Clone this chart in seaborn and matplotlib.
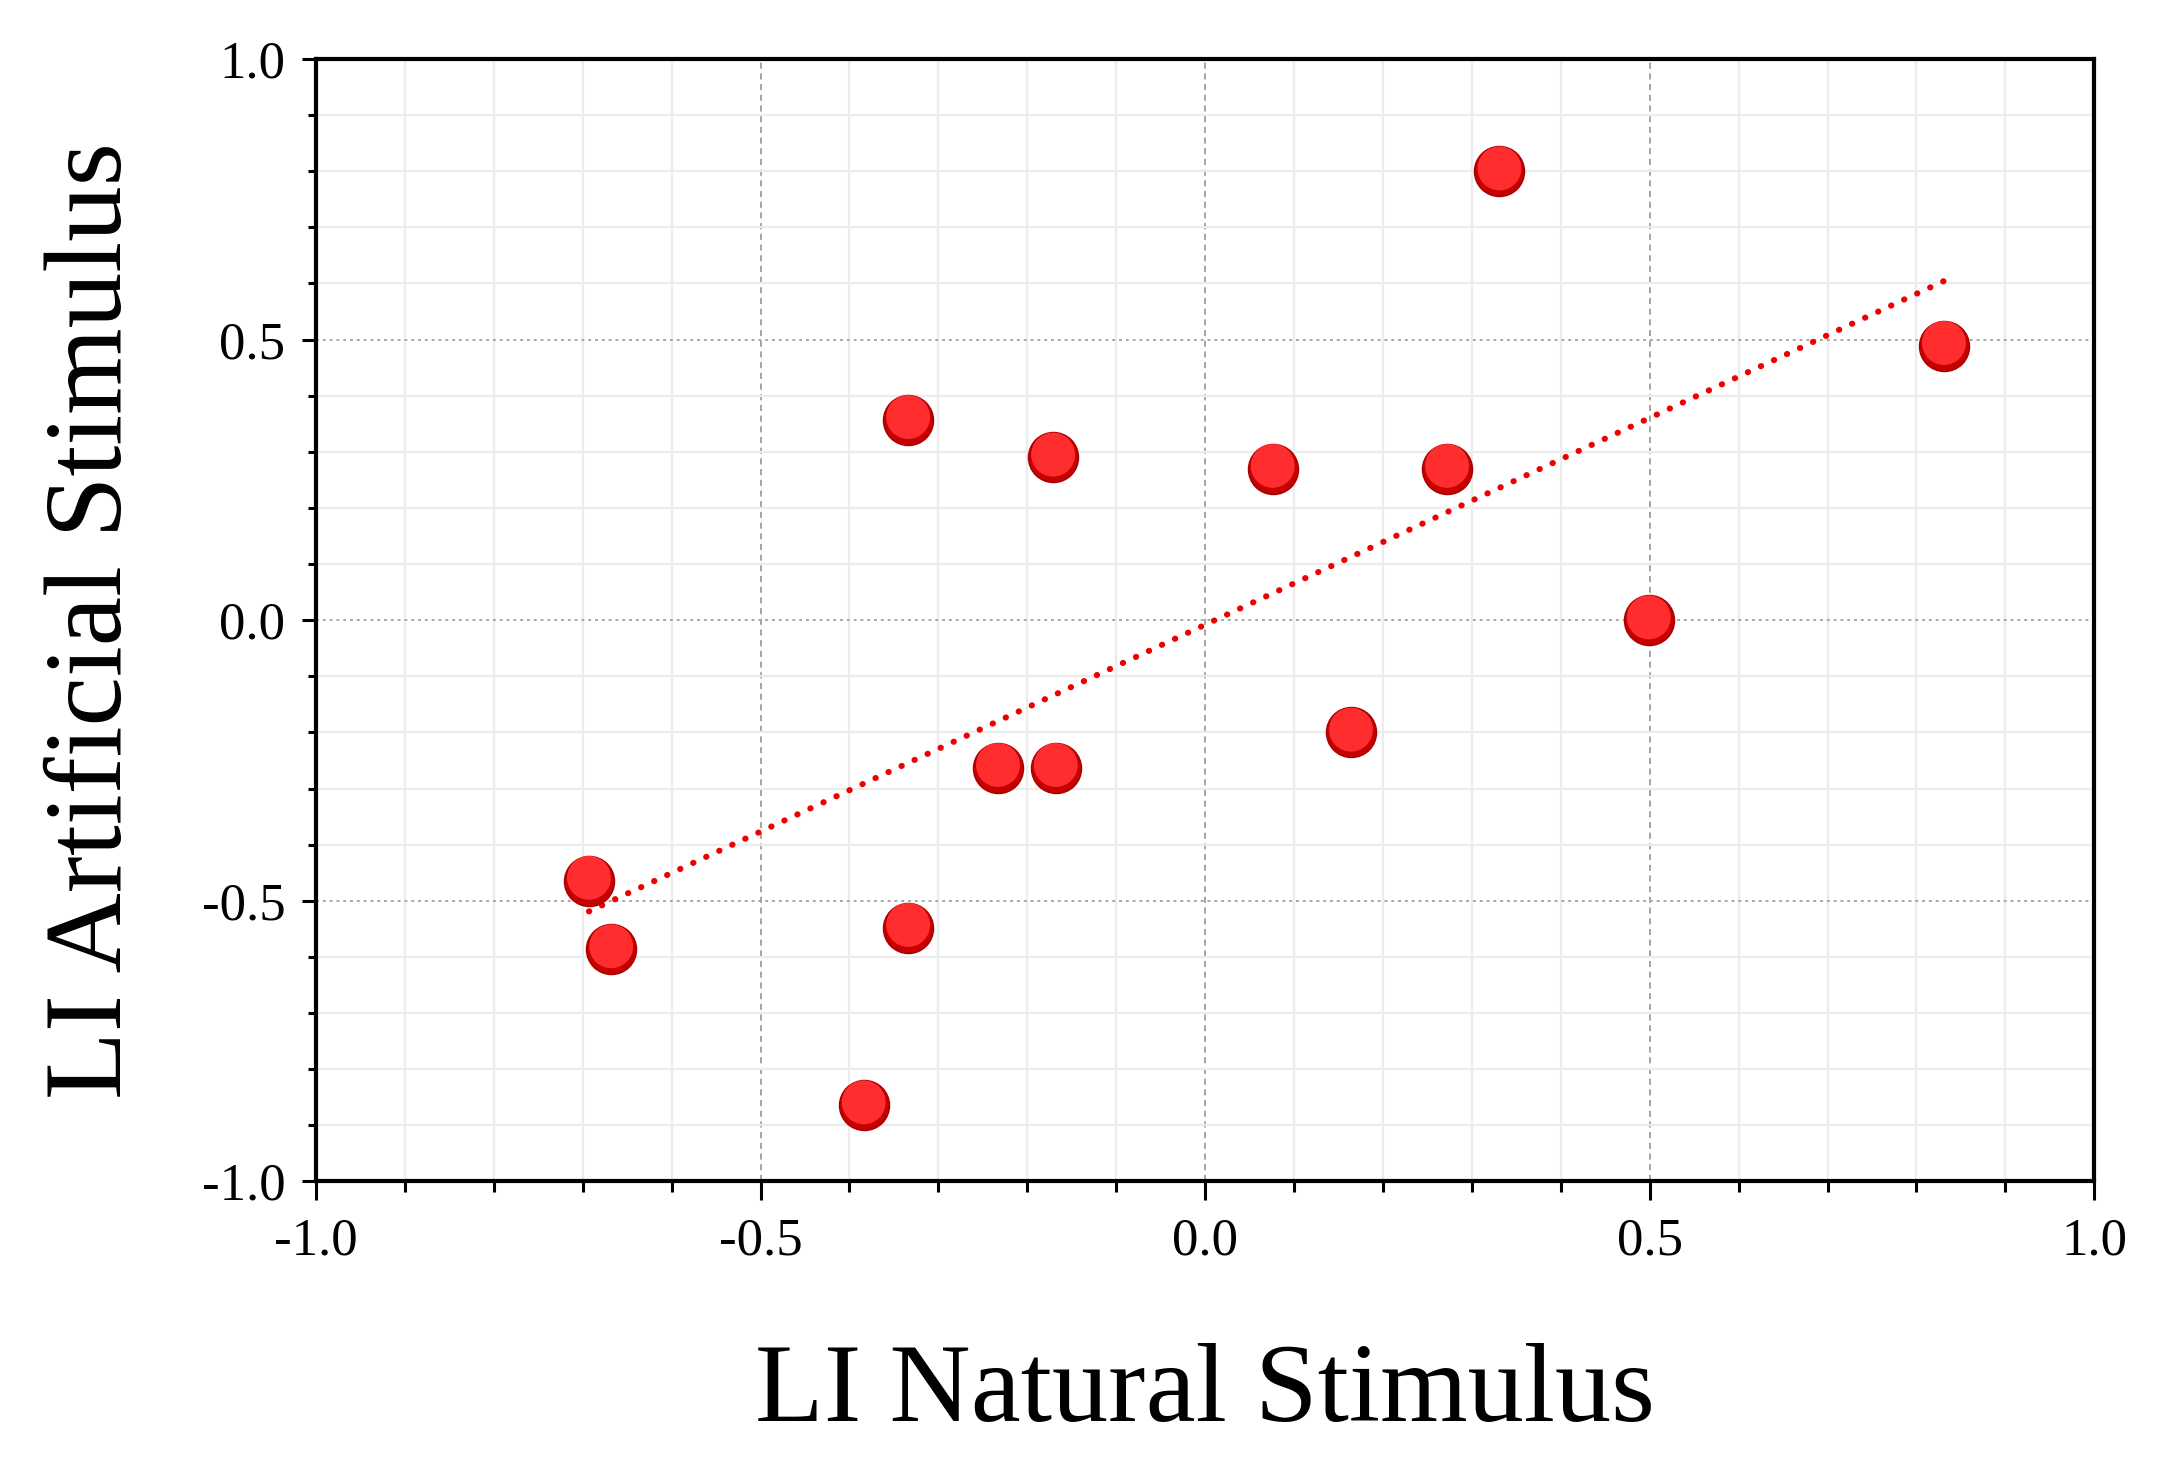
import numpy as np
import pandas as pd
import matplotlib
matplotlib.use("Agg")
import matplotlib.pyplot as plt
import matplotlib.transforms as mtransforms
from matplotlib.ticker import MultipleLocator, FormatStrFormatter
import seaborn as sns

# values
li_natural = [0.331, 0.831, -0.334, -0.171, 0.076, 0.272, 0.499, 0.164,
              -0.233, -0.168, -0.693, -0.668, -0.334, -0.384]
li_artificial = [0.800, 0.489, 0.357, 0.290, 0.270, 0.270, 0.000, -0.200,
                 -0.263, -0.263, -0.464, -0.586, -0.548, -0.864]
x_ticks = [-1.0, -0.5, 0.0, 0.5, 1.0]
y_ticks = [-1.0, -0.5, 0.0, 0.5, 1.0]

df = pd.DataFrame({"natural": li_natural, "artificial": li_artificial})

sns.set_theme(style="white")
plt.rcParams["font.family"] = ["Liberation Serif", "DejaVu Serif"]
plt.rcParams["axes.unicode_minus"] = False
plt.rcParams["text.color"] = "black"
plt.rcParams["axes.labelcolor"] = "black"
plt.rcParams["xtick.color"] = "black"
plt.rcParams["ytick.color"] = "black"

fig = plt.figure(figsize=(21.84, 14.70), dpi=100)
ax = fig.add_axes([0.1447, 0.1963, 0.8142, 0.7636])

# trend line (least squares fit over the data range)
sns.regplot(x="natural", y="artificial", data=df, ax=ax, ci=None, scatter=False,
            line_kws={"color": "#ee0000", "lw": 4.4, "ls": (0, (0.05, 2.3)),
                      "dash_capstyle": "round", "zorder": 3})

# points: dark base with a lighter face shifted up a little for a glossy look
sns.scatterplot(x="natural", y="artificial", data=df, ax=ax, s=1300,
                color="#c40000", edgecolor="#a80000", linewidth=1.0, zorder=4)
sns.scatterplot(x="natural", y="artificial", data=df, ax=ax, s=1000,
                color="#ff2d2d", edgecolor="none", linewidth=0, zorder=5)
shift = mtransforms.ScaledTranslation(0, 2.0 / 72, fig.dpi_scale_trans)
ax.collections[-1].set_offset_transform(ax.transData + shift)

ax.set_xlim(-1.0, 1.0)
ax.set_ylim(-1.0, 1.0)
ax.set_xticks(x_ticks)
ax.set_yticks(y_ticks)
ax.xaxis.set_minor_locator(MultipleLocator(0.1))
ax.yaxis.set_minor_locator(MultipleLocator(0.1))
ax.xaxis.set_major_formatter(FormatStrFormatter("%.1f"))
ax.yaxis.set_major_formatter(FormatStrFormatter("%.1f"))

# grids
ax.set_axisbelow(True)
ax.grid(which="minor", color="#ececec", lw=1.6, ls="-")
ax.grid(which="major", axis="x", color="#8c8c8c", lw=1.1, ls=(0, (4, 3)))
ax.grid(which="major", axis="y", color="#a8a8a8", lw=1.4, ls=(0, (1.5, 2)))

for side in ["left", "right", "top", "bottom"]:
    ax.spines[side].set_visible(True)
    ax.spines[side].set_color("black")
    ax.spines[side].set_linewidth(3.0)

ax.tick_params(axis="x", which="major", direction="out", length=14, width=2.2,
               color="black", labelsize=38, pad=12, labelcolor="black")
ax.tick_params(axis="x", which="minor", direction="out", length=8, width=2.2,
               color="black")
ax.tick_params(axis="y", which="major", direction="out", length=10, width=2.2,
               color="black", labelsize=38, pad=12, labelcolor="black")
ax.tick_params(axis="y", which="minor", direction="out", length=6, width=2.2,
               color="black")
ax.tick_params(left=True, bottom=True)
ax.tick_params(which="minor", left=True, bottom=True)

ax.set_xlabel("LI Natural Stimulus", fontsize=81, labelpad=56, color="black")
ax.set_ylabel("LI Artificial Stimulus", fontsize=80, labelpad=42, color="black")

fig.savefig("out.png", dpi=100, facecolor="white")
